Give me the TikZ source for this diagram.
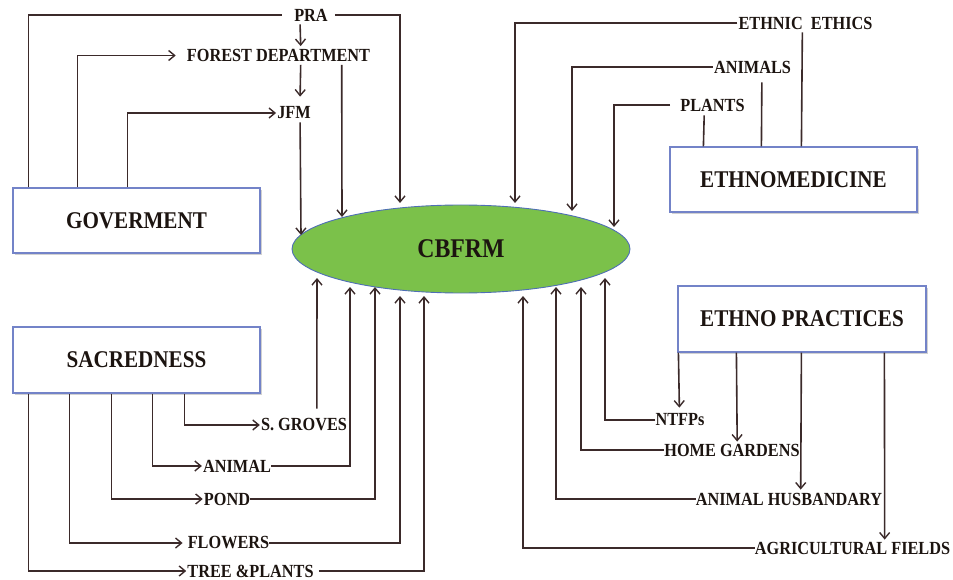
\documentclass[tikz,border=0pt]{standalone}
\usepackage{fontspec}
\setmainfont{Liberation Serif}[FakeStretch=0.88]
\usetikzlibrary{arrows.meta,shapes.geometric,shadows}
\definecolor{lncol}{HTML}{3B2A2A}
\definecolor{boxcol}{HTML}{7383C8}
\definecolor{ellfill}{HTML}{7BC14A}
\definecolor{ellline}{HTML}{4F6FB5}
\definecolor{txtcol}{HTML}{1C1410}
\tikzset{
  conn/.style={draw=lncol,line width=1.6pt},
  arr/.style={conn,-{Straight Barb[length=6pt,width=10pt,line width=1.4pt]}},
  bigbox/.style={draw=boxcol,line width=1.2pt,fill=white,minimum width=247pt,minimum height=65pt,inner sep=0pt,
    font=\bfseries\fontsize{24}{26}\selectfont,text=txtcol,
    drop shadow={shadow xshift=1.5pt,shadow yshift=-2pt,fill=black!30,opacity=0.6}},
  lbl/.style={inner sep=0pt,font=\bfseries\fontsize{18.5}{20}\selectfont,text=txtcol},
}
\begin{document}
\begin{tikzpicture}[x=1pt,y=-1pt]
\useasboundingbox (0,0) rectangle (953,580);
% boxes
\node[bigbox] (gov) at (136.5,220.5) {GOVERMENT};
\node[bigbox,minimum height=66pt] (sac) at (136.5,360) {SACREDNESS};
\node[bigbox] (emed) at (793.5,179.5) {ETHNOMEDICINE};
\node[bigbox,minimum width=248pt,minimum height=66pt] (ep) at (802,319) {ETHNO PRACTICES};
\node[ellipse,draw=ellline,line width=0.9pt,fill=ellfill,minimum width=338pt,minimum height=88pt,inner sep=0pt,
  font=\bfseries\fontsize{27}{29}\selectfont,text=txtcol] (cb) at (461,249) {CBFRM};
% labels
\node[lbl] (pra) at (311,15) {PRA};
\node[lbl] (fd) at (278.5,55.5) {FOREST DEPARTMENT};
\node[lbl] (jfm) at (294,113) {JFM};
\node[lbl] (ee) at (805.5,23) {ETHNIC\ \ ETHICS};
\node[lbl] (anim) at (752.5,67) {ANIMALS};
\node[lbl] (plants) at (712.5,105) {PLANTS};
\node[lbl] (sg) at (304,425) {S. GROVES};
\node[lbl] (animal) at (237,466) {ANIMAL};
\node[lbl] (pond) at (227,499) {POND};
\node[lbl] (flowers) at (228.5,543) {FLOWERS};
\node[lbl] (tp) at (250.5,571) {TREE \&PLANTS};
\node[lbl] (ntfp) at (680,420) {NTFPs};
\node[lbl] (hg) at (732,450) {HOME GARDENS};
\node[lbl] (ah) at (789,499) {ANIMAL HUSBANDARY};
\node[lbl] (af) at (852.5,548) {AGRICULTURAL FIELDS};
% tips at the ellipse
\coordinate (t1) at (301,235);
\coordinate (t2) at (342,217);
\coordinate (t3) at (400,203);
\coordinate (t4) at (515,203);
\coordinate (t5) at (572,211);
\coordinate (t6) at (614,227);
\coordinate (b1) at (317,278);
\coordinate (b2) at (350,287);
\coordinate (b3) at (375,287);
\coordinate (b4) at (400,296);
\coordinate (b5) at (424,296);
\coordinate (b6) at (523,296);
\coordinate (b7) at (556,287);
\coordinate (b8) at (581,287);
\coordinate (b9) at (605,278);
% government group
\draw[conn] ([xshift=16pt]gov.north west) |- ([xshift=-12pt]pra.west);
\draw[arr] ([xshift=65pt]gov.north west) |- ([xshift=-11pt]fd.west);
\draw[arr] ([xshift=115pt]gov.north west) |- ([xshift=-1pt]jfm.west);
\draw[arr] ([xshift=6pt,yshift=-3pt]pra.south west) -- ([xshift=114pt,yshift=3pt]fd.north west);
\draw[arr] ([xshift=114pt,yshift=-3pt]fd.south west) -- ([xshift=23pt,yshift=10pt]jfm.north west);
\draw[arr] ([xshift=23pt,yshift=-3pt]jfm.south west) -- (t1);
\draw[arr] ([xshift=155pt,yshift=-3pt]fd.south west) -- (t2);
\draw[arr] ([xshift=7pt]pra.east) -| (t3);
% ethnomedicine group
\draw[arr] ([xshift=-1pt]ee.west) -| (t4);
\draw[conn] ([xshift=132pt]emed.north west) -- ([xshift=64pt,yshift=-3pt]ee.south west);
\draw[arr] ([xshift=-1pt]anim.west) -| (t5);
\draw[conn] ([xshift=92pt]emed.north west) -- ([xshift=48pt,yshift=-9pt]anim.south west);
\draw[arr] ([xshift=-10pt]plants.west) -| (t6);
\draw[conn] ([xshift=34pt]emed.north west) -- ([xshift=24pt,yshift=-4pt]plants.south west);
% ethno practices group
\draw[arr] ([xshift=1pt]ep.south west) -- ([xshift=24pt,yshift=6pt]ntfp.north west);
\draw[arr] (ntfp.west) -| (b9);
\draw[arr] ([xshift=59pt]ep.south west) -- ([xshift=73pt,yshift=2pt]hg.north west);
\draw[arr] (hg.west) -| (b8);
\draw[arr] ([xshift=124pt]ep.south west) -- ([xshift=105pt,yshift=3pt]ah.north west);
\draw[arr] (ah.west) -| (b7);
\draw[arr] ([xshift=207pt]ep.south west) -- ([xshift=130pt,yshift=2pt]af.north west);
\draw[arr] (af.west) -| (b6);
% sacredness group
\draw[arr] ([xshift=172pt]sac.south west) |- ([xshift=-1pt]sg.west);
\draw[arr] ([xshift=56pt,yshift=10pt]sg.north west) -- (b1);
\draw[arr] ([xshift=140pt]sac.south west) |- ([xshift=-1pt]animal.west);
\draw[arr] (animal.east) -| (b2);
\draw[arr] ([xshift=99pt]sac.south west) |- ([xshift=-1pt]pond.west);
\draw[arr] (pond.east) -| (b3);
\draw[arr] ([xshift=57pt]sac.south west) |- ([xshift=-5pt]flowers.west);
\draw[arr] (flowers.east) -| (b4);
\draw[arr] ([xshift=16pt]sac.south west) |- ([xshift=-1pt]tp.west);
\draw[arr] ([xshift=5pt]tp.east) -| (b5);
\end{tikzpicture}
\end{document}
